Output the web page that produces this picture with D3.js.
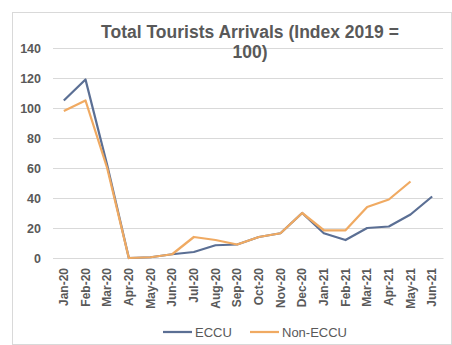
<!DOCTYPE html>
<html>
<head>
<meta charset="utf-8">
<script src="https://cdn.jsdelivr.net/npm/d3@7"></script>
<style>
  html, body { margin: 0; padding: 0; background: #fff; }
  svg { display: block; }
  text { font-family: "Liberation Sans", Arial, sans-serif; }
</style>
</head>
<body>
<svg id="chart" width="452" height="345"></svg>
<script>
// Monthly tourist arrivals, indexed to 2019 = 100
const months = ["Jan-20","Feb-20","Mar-20","Apr-20","May-20","Jun-20","Jul-20","Aug-20","Sep-20",
                "Oct-20","Nov-20","Dec-20","Jan-21","Feb-21","Mar-21","Apr-21","May-21","Jun-21"];
const eccu    = [105, 119, 62, 0, 0.5, 2.5, 4, 8.5, 9, 14, 16.5, 30, 16.5, 12, 20, 21, 29, 41];
const nonEccu = [98, 105, 60, 0, 0.5, 2.5, 14, 12, 9, 14, 16.5, 30, 18.5, 18.5, 34, 39, 51, null];
const yTicks  = [0, 20, 40, 60, 80, 100, 120, 140];

const seriesNames  = ["ECCU", "Non-ECCU"];
const seriesColors = ["#5b6f94", "#f0aa62"];

const svg = d3.select("#chart");
const W = 452, H = 345;
const plot = { left: 53, right: 443, top: 48, bottom: 258 };

// chart frame
svg.append("rect")
  .attr("x", 12.5).attr("y", 12.5)
  .attr("width", W - 13).attr("height", H - 13)
  .attr("fill", "#fff").attr("stroke", "#d9d9d9").attr("stroke-width", 1);

const x = d3.scaleBand().domain(months).range([plot.left, plot.right]);
const y = d3.scaleLinear().domain([0, 140]).range([plot.bottom, plot.top]);

// horizontal gridlines + y labels
const yAxis = d3.axisLeft(y).tickValues(yTicks).tickSize(-(plot.right - plot.left)).tickPadding(12);
const gy = svg.append("g").attr("transform", `translate(${plot.left},0)`).call(yAxis);
gy.select(".domain").remove();
gy.selectAll(".tick line").attr("stroke", "#d9d9d9").attr("stroke-width", 1);
gy.selectAll(".tick text")
  .attr("fill", "#595959").attr("font-size", 12.5).attr("font-weight", "bold");

// x axis with rotated month labels
const xAxis = d3.axisBottom(x).tickSize(0).tickPadding(8);
const gx = svg.append("g").attr("transform", `translate(0,${plot.bottom})`).call(xAxis);
gx.select(".domain").attr("stroke", "#d9d9d9");
gx.selectAll(".tick text")
  .attr("fill", "#595959").attr("font-size", 12).attr("font-weight", "bold")
  .attr("transform", "rotate(-90)")
  .attr("text-anchor", "end")
  .attr("x", -10).attr("y", 0).attr("dy", "0.35em");

// series lines
const line = d3.line()
  .defined(d => d.v != null)
  .x(d => x(d.m) + x.bandwidth() / 2)
  .y(d => y(d.v));

[eccu, nonEccu].forEach((vals, i) => {
  const pts = months.map((m, j) => ({ m, v: vals[j] }));
  svg.append("path")
    .datum(pts)
    .attr("fill", "none")
    .attr("stroke", seriesColors[i])
    .attr("stroke-width", 2.25)
    .attr("stroke-linejoin", "round")
    .attr("d", line);
});

// title
const title = svg.append("text")
  .attr("x", 250).attr("y", 38)
  .attr("text-anchor", "middle")
  .attr("fill", "#595959").attr("font-size", 17.5).attr("font-weight", "bold");
title.append("tspan").attr("x", 250).text("Total Tourists Arrivals (Index 2019 =");
title.append("tspan").attr("x", 250).attr("dy", 20).text("100)");

// legend
const legend = svg.append("g").attr("transform", "translate(163,332)");
const legendX = [0, 87];
seriesNames.forEach((name, i) => {
  const g = legend.append("g").attr("transform", `translate(${legendX[i]},0)`);
  g.append("line").attr("x1", 0).attr("x2", 29).attr("y1", 0).attr("y2", 0)
    .attr("stroke", seriesColors[i]).attr("stroke-width", 2.25);
  g.append("text").attr("x", 32).attr("y", 0).attr("dy", "0.35em")
    .attr("fill", "#595959").attr("font-size", 13).text(name);
});
</script>
</body>
</html>
